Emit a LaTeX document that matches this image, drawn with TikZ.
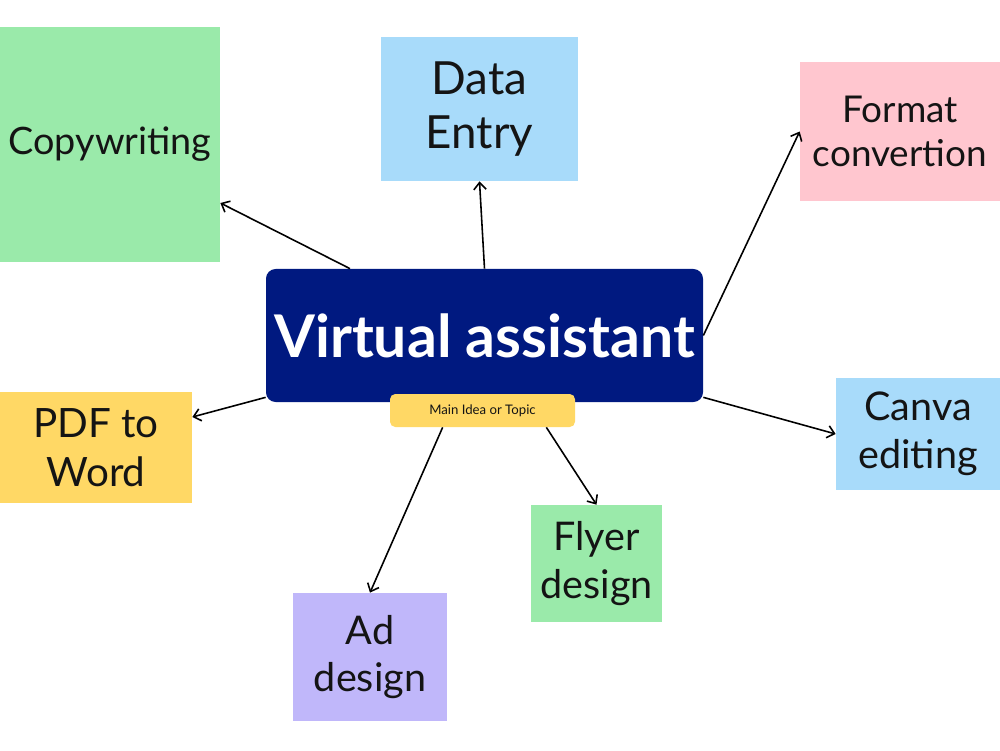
\documentclass[tikz,border=0pt]{standalone}
\usepackage{fontspec}
\setmainfont{Lato}
\usepackage{xcolor}
\usepackage{tikz}
\usetikzlibrary{arrows.meta,positioning}
\definecolor{vaNavy}{RGB}{0,25,128}
\definecolor{vaGreen}{RGB}{154,234,170}
\definecolor{vaBlue}{RGB}{168,219,250}
\definecolor{vaPink}{RGB}{255,198,207}
\definecolor{vaYellow}{RGB}{255,216,101}
\definecolor{vaPurple}{RGB}{192,183,250}
\definecolor{vaText}{RGB}{20,20,20}
\newcommand{\cardsize}[1]{\fontsize{#1}{1.2\dimexpr#1pt\relax}\selectfont}

\begin{document}
\begin{tikzpicture}[>={Straight Barb[length=4pt,width=7pt]}, font=\cardsize{23}]
\tikzstyle{card}=[inner sep=0pt, align=center, text=vaText]
\tikzstyle{link}=[->, line width=0.9pt, black]

\useasboundingbox[fill=white] (0,0) rectangle (20,15);

\node[card, fill=vaGreen, minimum width=4.4cm, minimum height=4.7cm, font=\cardsize{21.5}] (copy) at (2.2,12.11) {Copywriting};
\node[card, fill=vaBlue, minimum width=3.94cm, minimum height=2.88cm, font=\cardsize{26}] (entry) at (9.59,12.82) {Data\\Entry};
\node[card, fill=vaPink, minimum width=4.0cm, minimum height=2.78cm, font=\cardsize{21}] (fmt) at (18.0,12.37) {Format\\convertion};
\node[card, fill=vaYellow, minimum width=3.84cm, minimum height=2.22cm] (pdf) at (1.92,6.05) {PDF to\\Word};
\node[card, fill=vaBlue, minimum width=3.28cm, minimum height=2.24cm, font=\cardsize{22.5}] (canva) at (18.36,6.32) {Canva\\editing};
\node[card, fill=vaGreen, minimum width=2.62cm, minimum height=2.34cm, font=\cardsize{22.5}] (flyer) at (11.93,3.73) {Flyer\\design};
\node[card, fill=vaPurple, minimum width=3.08cm, minimum height=2.56cm, font=\cardsize{22.5}] (ad) at (7.4,1.86) {Ad\\design};

\node[card, fill=vaNavy, text=white, rounded corners=5.5pt, minimum width=8.74cm, minimum height=2.66cm, font=\cardsize{33.5}\bfseries] (va) at (9.69,8.29) {Virtual assistant};
\node[card, fill=vaYellow, rounded corners=3pt, minimum width=3.7cm, minimum height=0.66cm, font=\cardsize{7.5}] (tag) at (9.65,6.79) {Main Idea or Topic};

\draw[link] ([xshift=-2.69cm]va.north) -- ([yshift=-1.17cm]copy.east);
\draw[link] (va.north) -- (entry.south);
\draw[link] (va.east) -- (fmt.west);
\draw[link] ([yshift=0.1cm]va.south west) -- ([yshift=0.61cm]pdf.east);
\draw[link] ([yshift=0.1cm]va.south east) -- (canva.west);
\draw[link] ([xshift=-0.58cm]tag.south east) -- (flyer.north);
\draw[link] ([xshift=1.06cm]tag.south west) -- (ad.north);
\end{tikzpicture}
\end{document}
